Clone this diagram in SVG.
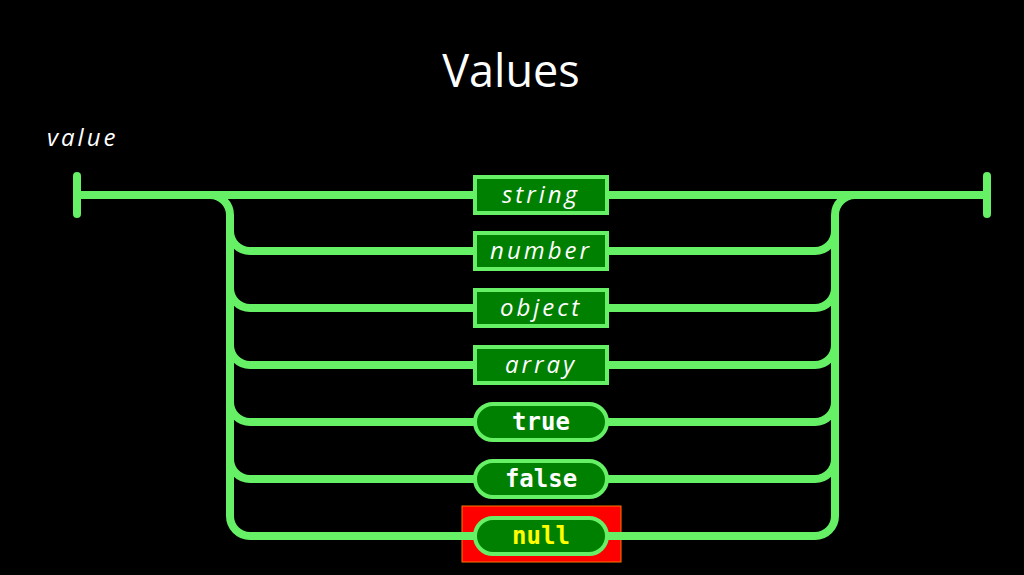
<svg xmlns="http://www.w3.org/2000/svg" width="1024" height="575" viewBox="0 0 1024 575">
<style>
.ln{fill:none;stroke:#66f066;stroke-width:8;stroke-linecap:round;stroke-linejoin:round}
.box{fill:#008000;stroke:#66f066;stroke-width:4}
.nt{font-family:"Open Sans","DejaVu Sans",sans-serif;font-style:italic;font-size:24px;letter-spacing:3px;fill:#ffffff;text-anchor:middle}
.tt{font-family:"DejaVu Sans Mono","Liberation Mono",monospace;font-weight:bold;font-size:24px;fill:#ffffff;text-anchor:middle}
</style>
<rect x="0" y="0" width="1024" height="575" fill="#000000"/>
<text x="511" y="87" font-family="'Open Sans','DejaVu Sans',sans-serif" font-size="45" fill="#ffffff" text-anchor="middle">Values</text>
<text x="47" y="146" font-family="'Open Sans','DejaVu Sans',sans-serif" font-style="italic" font-size="24" letter-spacing="3" fill="#ffffff">value</text>
<g id="connectors">
<path class="ln" d="M77,176 L77,214"/>
<path class="ln" d="M987,176 L987,214"/>
<path class="ln" d="M77,195 L473,195"/>
<path class="ln" d="M609,195 L987,195"/>
<path class="ln" d="M210,195 A20,20 0 0 1 230,215 L230,516 A20,20 0 0 0 250,536 L473,536"/>
<path class="ln" d="M230,231 A20,20 0 0 0 250,251 L473,251"/>
<path class="ln" d="M230,288 A20,20 0 0 0 250,308 L473,308"/>
<path class="ln" d="M230,345 A20,20 0 0 0 250,365 L473,365"/>
<path class="ln" d="M230,402 A20,20 0 0 0 250,422 L473,422"/>
<path class="ln" d="M230,459 A20,20 0 0 0 250,479 L473,479"/>
<path class="ln" d="M855,195 A20,20 0 0 0 835,215 L835,516 A20,20 0 0 1 815,536 L609,536"/>
<path class="ln" d="M609,251 L815,251 A20,20 0 0 0 835,231"/>
<path class="ln" d="M609,308 L815,308 A20,20 0 0 0 835,288"/>
<path class="ln" d="M609,365 L815,365 A20,20 0 0 0 835,345"/>
<path class="ln" d="M609,422 L815,422 A20,20 0 0 0 835,402"/>
<path class="ln" d="M609,479 L815,479 A20,20 0 0 0 835,459"/>
</g>
<g id="node-string"><rect class="box" x="475" y="177" width="132" height="36"/><text class="nt" x="541" y="203">string</text></g>
<g id="node-number"><rect class="box" x="475" y="233" width="132" height="36"/><text class="nt" x="541" y="259">number</text></g>
<g id="node-object"><rect class="box" x="475" y="290" width="132" height="36"/><text class="nt" x="541" y="316">object</text></g>
<g id="node-array"><rect class="box" x="475" y="347" width="132" height="36"/><text class="nt" x="541" y="373">array</text></g>
<g id="node-true"><rect class="box" x="475" y="404" width="132" height="36" rx="18"/><text class="tt" x="541" y="430">true</text></g>
<g id="node-false"><rect class="box" x="475" y="461" width="132" height="36" rx="18"/><text class="tt" x="541" y="487">false</text></g>
<g id="node-null"><rect x="462" y="506" width="159" height="56" fill="#ff0000" stroke="#ff7700" stroke-width="1"/><path class="ln" d="M462,536 L475,536 M607,536 L621,536"/><rect class="box" x="475" y="518" width="132" height="36" rx="18"/><text class="tt" x="541" y="544" fill="#ffff00" style="fill:#ffff00">null</text></g>
</svg>
